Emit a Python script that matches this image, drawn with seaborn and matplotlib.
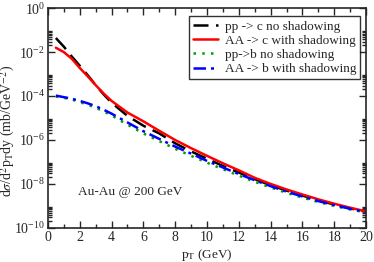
import numpy as np
import pandas as pd
import matplotlib
matplotlib.use("Agg")
import matplotlib.pyplot as plt
import matplotlib.ticker as mticker
import seaborn as sns

# pT grid (GeV) and log10 of the cross sections
pt = [0.5, 1, 1.5, 2, 2.5, 3, 3.5, 4, 5, 6, 7, 8, 9, 10, 11, 12, 13, 14, 15, 16, 17, 18, 19, 20]
pp_c = [-1.36, -1.75, -2.2, -2.62, -3.05, -3.5, -3.92, -4.3, -4.9, -5.35, -5.7, -6.15,
        -6.52, -6.85, -7.18, -7.48, -7.78, -8.06, -8.3, -8.53, -8.74, -8.94, -9.11, -9.27]
aa_c = [-1.8, -2.0, -2.3, -2.72, -3.1, -3.5, -3.88, -4.22, -4.75, -5.15, -5.58, -6.0,
        -6.37, -6.72, -7.06, -7.38, -7.72, -8.0, -8.25, -8.48, -8.7, -8.9, -9.08, -9.25]
pp_b = [-4.02, -4.08, -4.16, -4.27, -4.4, -4.53, -4.7, -4.88, -5.3, -5.7, -6.05, -6.4,
        -6.72, -7.03, -7.33, -7.62, -7.9, -8.16, -8.4, -8.62, -8.82, -9.0, -9.16, -9.3]
aa_b = [-3.98, -4.05, -4.12, -4.22, -4.33, -4.46, -4.62, -4.8, -5.2, -5.6, -5.95, -6.3,
        -6.62, -6.95, -7.25, -7.55, -7.83, -8.1, -8.35, -8.57, -8.78, -8.96, -9.13, -9.28]

labels = ["pp -> c no shadowing", "AA -> c with shadowing",
          "pp->b no shadowing", "AA -> b with shadowing"]

sns.set_style("ticks")
plt.rcParams["font.family"] = ["Liberation Serif", "DejaVu Serif"]
plt.rcParams["mathtext.fontset"] = "stix"

fig = plt.figure(figsize=(3.74, 2.62), dpi=100)
ax = fig.add_axes([0.128, 0.13, 0.851, 0.839])

series = [pp_c, aa_c, pp_b, aa_b]
colors = ["black", "red", "#00a000", "blue"]
styles = [(0, (6, 3)), "-", (0, (1, 2.5)), (0, (5, 2, 1.2, 2))]
for lab, vals, c, ls in zip(labels, series, colors, styles):
    df = pd.DataFrame({"pT": pt, "y": 10 ** np.array(vals)})
    sns.lineplot(data=df, x="pT", y="y", color=c, linestyle=ls, lw=1.8, label=lab, ax=ax)

ax.set_yscale("log")
ax.set_xlim(0, 20)
ax.set_ylim(1e-10, 1)
ax.xaxis.set_major_locator(mticker.MultipleLocator(2))
ax.xaxis.set_minor_locator(mticker.MultipleLocator(1))
ax.yaxis.set_major_locator(mticker.FixedLocator([10.0 ** e for e in range(-10, 1, 2)]))
ax.yaxis.set_minor_locator(mticker.FixedLocator(
    [s * 10.0 ** e for e in range(-10, 0, 2) for s in range(2, 10)]))
ax.yaxis.set_major_formatter(mticker.LogFormatterMathtext())
ax.yaxis.set_minor_formatter(mticker.NullFormatter())
ax.tick_params(which="both", direction="in", top=True, right=True, labelsize=10, pad=2)
ax.tick_params(which="major", length=5, width=1)
ax.tick_params(which="minor", length=3, width=1)
for sp in ax.spines.values():
    sp.set_linewidth(1.2)

ax.set_xlabel(r"p$_\mathrm{T}$ (GeV)", fontsize=9.5)
ax.xaxis.set_label_coords(0.5, -0.135)
ax.xaxis.label.set_va("baseline")
ax.set_ylabel(r"d$\sigma$/d$^2$p$_\mathrm{T}$dy (mb/GeV$^{-2}$)", fontsize=10)
ax.yaxis.set_label_coords(-0.097, 0.44)
ax.text(1.9, 10 ** -8.37, "Au-Au @ 200 GeV", fontsize=9.5, va="center")

leg = ax.legend(loc="upper right", bbox_to_anchor=(0.981, 0.962), borderaxespad=0,
                fontsize=9.5, frameon=True, fancybox=False, handlelength=1.9,
                handletextpad=0.5, borderpad=0.3, labelspacing=0.15)
leg.get_frame().set_edgecolor("black")
leg.get_frame().set_linewidth(1.0)

fig.savefig("out.png", dpi=100)
